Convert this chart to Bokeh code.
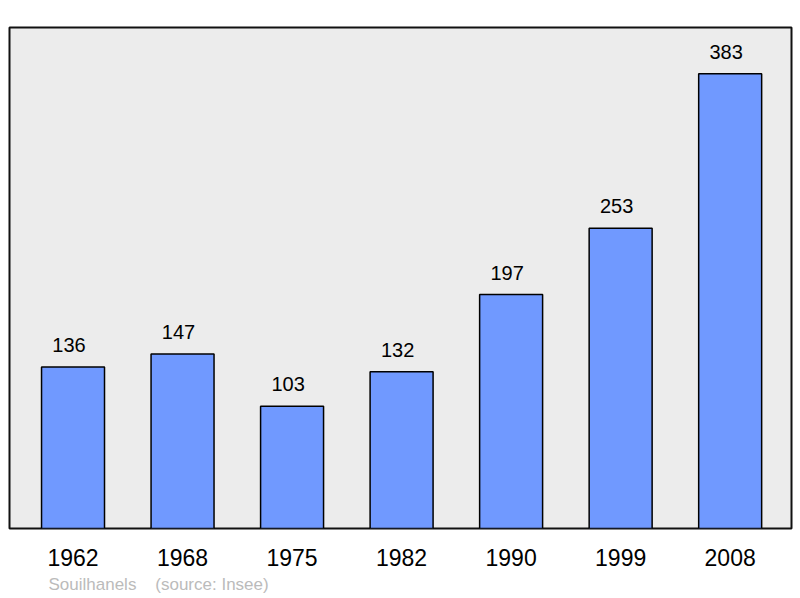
from bokeh.plotting import figure
from bokeh.models import Range1d, FixedTicker, ColumnDataSource, Title
from bokeh.core.properties import value
from bokeh.embed import file_html
from bokeh.resources import INLINE

years = ["1962", "1968", "1975", "1982", "1990", "1999", "2008"]
population = [136, 147, 103, 132, 197, 253, 383]
town = "Souilhanels"
source_note = "(source: Insee)"

FONT = "Liberation Sans"

idx = list(range(len(years)))
src = ColumnDataSource(dict(x=idx, top=population, label=[str(v) for v in population]))

p = figure(width=800, height=598, output_backend="svg", toolbar_location=None,
           x_range=Range1d(-0.58, 6.56), y_range=Range1d(0, 422),
           y_axis_location=None,
           min_border_left=9, min_border_right=9, min_border_top=27, min_border_bottom=70)
p.background_fill_color = "#ececec"
p.border_fill_color = "white"
p.outline_line_color = "#111111"
p.outline_line_width = 2
p.grid.visible = False

p.vbar(x="x", top="top", bottom=0, width=0.575, source=src,
       fill_color="#7099ff", line_color="black", line_width=1.5)
p.text(x="x", y="top", text="label", source=src, text_align="center",
       text_baseline="alphabetic", x_offset=-4, y_offset=-22, text_font=value(FONT),
       text_font_size="20px", text_color="black")

xa = p.xaxis[0]
xa.ticker = FixedTicker(ticks=idx)
xa.major_label_overrides = {i: y for i, y in zip(idx, years)}
xa.axis_line_color = None
xa.major_tick_line_color = None
xa.minor_tick_line_color = None
xa.major_tick_out = 0
xa.major_tick_in = 0
xa.major_label_standoff = 20
xa.major_label_text_font = FONT
xa.major_label_text_font_size = "23px"
xa.major_label_text_color = "black"

footer = Title(text=town + "\u00a0\u00a0\u00a0\u00a0" + source_note, align="left",
               offset=39, standoff=8, text_font=FONT, text_font_size="17px",
               text_font_style="normal", text_color="#bbbbbb")
p.add_layout(footer, "below")

open("out.html", "w").write(file_html(p, INLINE))
